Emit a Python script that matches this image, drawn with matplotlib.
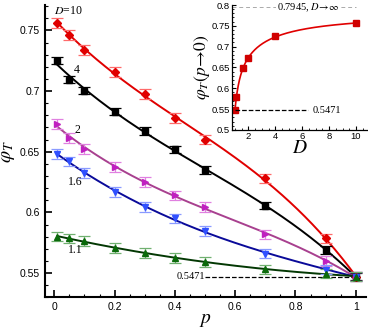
import matplotlib
matplotlib.use("Agg")
import matplotlib.pyplot as plt
import numpy as np
from matplotlib.ticker import MultipleLocator

plt.rcParams['font.family'] = ['Liberation Sans', 'DejaVu Sans']
plt.rcParams['mathtext.fontset'] = 'stix'

# ---- data ----
p = [0.01, 0.05, 0.1, 0.2, 0.3, 0.4, 0.5, 0.7, 0.9, 1.0]
phi_D10 = [0.756, 0.7464, 0.734, 0.716, 0.6975, 0.6776, 0.660, 0.628, 0.5785, 0.5471]
phi_D4 = [0.725, 0.7093, 0.7004, 0.683, 0.667, 0.652, 0.635, 0.6054, 0.569, 0.5471]
phi_D2 = [0.673, 0.6616, 0.652, 0.6377, 0.625, 0.614, 0.6046, 0.5818, 0.5598, 0.5471]
phi_D16 = [0.648, 0.642, 0.6322, 0.617, 0.6046, 0.595, 0.5846, 0.566, 0.5529, 0.5471]
phi_D11 = [0.580, 0.5785, 0.5763, 0.5707, 0.5666, 0.5625, 0.5592, 0.553, 0.5496, 0.5471]
err = [0.004, 0.003, 0.004, 0.004, 0.004]

D_vals = [1, 1.1, 1.6, 2, 4, 10]
phi_p0 = [0.5471, 0.580, 0.648, 0.673, 0.725, 0.756]
phi_inf = 0.7945
phi_one = 0.5471

series = [
    # values, marker, marker colour, error colour, line colour
    (phi_D10, 'D', '#e00000', '#ff6a6a', '#e00000'),
    (phi_D4, 's', 'black', 'black', 'black'),
    (phi_D2, '>', '#c020c0', '#e080e0', '#a8408f'),
    (phi_D16, 'v', '#3050ff', '#8a9aff', '#0a0a99'),
    (phi_D11, '^', '#0a6a0a', '#70b070', '#033803'),
]

fig = plt.figure(figsize=(3.68, 3.29), dpi=100)
ax = fig.add_axes([0.1223, 0.0964, 0.8723, 0.8884])

pf = np.linspace(0.01, 1.0, 200)
for (vals, mk, mc, ec, lc), e in zip(series, err):
    c = np.polyfit(p, vals, 3)
    ax.plot(pf, np.polyval(c, pf), color=lc, lw=1.4, zorder=2)
    ax.errorbar(p, vals, yerr=e, fmt='none', ecolor=ec, elinewidth=0.9,
                capsize=4.5, capthick=0.9, zorder=3)
    ax.plot(p, vals, linestyle='none', marker=mk, color=mc,
            ms=5 if mk != 'D' else 4.5, zorder=4)

ax.plot([0.5, 1.0], [phi_one, phi_one], ls='--', color='black', lw=0.9, zorder=1)
ax.text(0.5, phi_one, '0.5471', family='Liberation Serif', fontsize=7.5,
        ha='right', va='center')

lab_kw = dict(family='Liberation Serif', fontsize=8.5, va='center')
ax.text(0.0, 0.766, r'$D$=10', **lab_kw)
ax.text(0.065, 0.717, '4', **lab_kw)
ax.text(0.066, 0.668, '2', **lab_kw)
ax.text(0.045, 0.625, '1.6', **lab_kw)
ax.text(0.045, 0.5693, '1.1', **lab_kw)

ax.set_xlim(-0.031, 1.034)
ax.set_ylim(0.53, 0.771)
ax.xaxis.set_minor_locator(MultipleLocator(0.05))
ax.yaxis.set_minor_locator(MultipleLocator(0.01))
ax.set_xticks([0, 0.2, 0.4, 0.6, 0.8, 1.0], ['0', '0.2', '0.4', '0.6', '0.8', '1'])
ax.set_yticks([0.55, 0.6, 0.65, 0.7, 0.75], ['0.55', '0.6', '0.65', '0.7', '0.75'])
ax.tick_params(which='both', direction='in', labelsize=7.5, width=1.2)
ax.tick_params(which='major', length=5)
ax.tick_params(which='minor', length=2.5, width=0.8)
for s in ['top', 'right']:
    ax.spines[s].set_visible(False)
for s in ['left', 'bottom']:
    ax.spines[s].set_linewidth(1.5)
ax.set_xlabel(r'$p$', fontsize=14, labelpad=0)
ax.set_ylabel(r'$\varphi_T$', fontsize=14, labelpad=2)

# ---- inset ----
ins = fig.add_axes([0.6313, 0.6049, 0.3652, 0.3799])
ins.patch.set_alpha(0)
inv = 1.0 / np.array(D_vals)
ci = np.polyfit(inv, phi_p0, 3)
Df = np.linspace(1, 10, 300)
ins.plot(Df, np.polyval(ci, 1.0 / Df), color='#e00000', lw=1.2)
ins.plot(D_vals, phi_p0, 's', color='#d00000', ms=4)
ins.plot([1, 6.45], [phi_one, phi_one], ls='--', color='black', lw=0.9)
ins.text(6.8, phi_one, '0.5471', family='Liberation Serif', fontsize=7.5, va='center')
ins.plot([0.8, 10.0], [phi_inf, phi_inf], ls='--', dashes=(4, 3), color='#aaaaaa', lw=0.7)
ins.text(4.1, phi_inf, r'0.7945, $D\!\rightarrow\!\infty$', family='Liberation Serif',
         fontsize=7.5, va='center', bbox=dict(fc='white', ec='none', pad=0.5))
ins.set_xlim(0.8, 10.8)
ins.set_ylim(0.5, 0.8)
ins.set_xticks([2, 4, 6, 8, 10])
ins.set_yticks([0.5, 0.55, 0.6, 0.65, 0.7, 0.75, 0.8],
               ['0.5', '0.55', '0.6', '0.65', '0.7', '0.75', '0.8'])
ins.xaxis.set_minor_locator(MultipleLocator(0.5))
ins.yaxis.set_minor_locator(MultipleLocator(0.01))
ins.tick_params(which='both', direction='in', labelsize=6.8, pad=1.5, width=0.8)
ins.tick_params(which='major', length=3)
ins.tick_params(which='minor', length=1.5, width=0.6)
for s in ['top', 'right']:
    ins.spines[s].set_visible(False)
for s in ['left', 'bottom']:
    ins.spines[s].set_linewidth(0.9)
ins.set_xlabel(r'$D$', fontsize=14, labelpad=-1)
ins.set_ylabel(r'$\varphi_T(p\!\rightarrow\!0)$', fontsize=12.5, labelpad=0)

fig.savefig('out.png', dpi=100)
